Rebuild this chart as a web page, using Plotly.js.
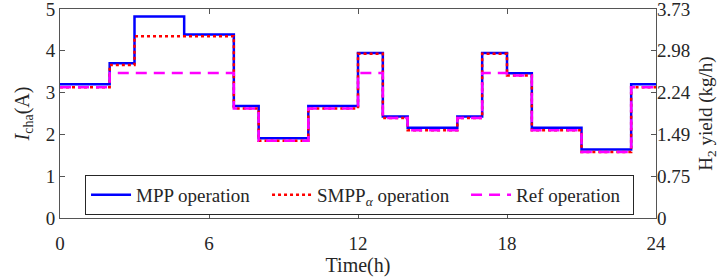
<!DOCTYPE html>
<html><head><meta charset="utf-8">
<script src="https://cdn.plot.ly/plotly-3.0.1.min.js"></script>
<style>html,body{margin:0;padding:0;background:#fff}#c{width:722px;height:280px}</style>
</head><body><div id="c"></div>
<script>
// hours (step starts), last point closes the step at 24
const hours = [0,1,2,3,4,5,6,7,8,9,10,11,12,13,14,15,16,17,18,19,20,21,22,23,24];
const mppOperation  = [3.20,3.20,3.70,4.82,4.82,4.39,4.39,2.68,1.91,1.91,2.68,2.68,3.95,2.43,2.16,2.16,2.43,3.95,3.46,2.16,2.16,1.64,1.64,3.20,3.20];
const smppOperation = [3.13,3.13,3.66,4.35,4.35,4.35,4.35,2.62,1.85,1.85,2.62,2.62,3.93,2.39,2.10,2.10,2.39,3.93,3.41,2.10,2.10,1.58,1.58,3.13,3.13];
const refOperation  = [3.13,3.13,3.47,3.47,3.47,3.47,3.47,2.62,1.85,1.85,2.62,2.62,3.47,2.39,2.10,2.10,2.39,3.47,3.41,2.10,2.10,1.58,1.58,3.13,3.13];
const seriesNames = ['MPP operation','SMPP<sub><i>α</i></sub> operation','Ref operation'];
const xTicks = [0,6,12,18,24];
const leftTicks = [0,1,2,3,4,5];
const rightTickLabels = ['0','0.75','1.49','2.24','2.98','3.73'];
const h2Scale = 0.746; // kg/h per A

const FAM = 'Liberation Serif';
const f = (s)=>({family:FAM, size:s, color:'#262626'});
const axCol = '#555555';
const traces = [
  {x:hours, y:mppOperation, name:seriesNames[0], mode:'lines', legendwidth:126, line:{shape:'hv', color:'#0000FF', width:2.5}},
  {x:hours, y:smppOperation, name:seriesNames[1], mode:'lines', legendwidth:144, line:{shape:'hv', color:'#FF0000', width:2.5, dash:'dot'}},
  {x:hours, y:refOperation, name:seriesNames[2], mode:'lines', legendwidth:112, line:{shape:'hv', color:'#FF00FF', width:2.5, dash:'11px,7px'}},
  {x:[0], y:[0], yaxis:'y2', mode:'markers', marker:{opacity:0}, showlegend:false, hoverinfo:'skip'}
];
const layout = {
  width:722, height:280,
  margin:{l:60, r:66, t:9, b:62},
  paper_bgcolor:'#fff', plot_bgcolor:'#fff',
  font:f(17),
  showlegend:true,
  legend:{orientation:'h', x:0.042, y:0.206, xanchor:'left', yanchor:'top',
    bgcolor:'#fff', bordercolor:'#262626', borderwidth:1, font:f(19),
    traceorder:'normal', itemwidth:40},
  xaxis:{range:[0,24], tickvals:xTicks, ticks:'inside', ticklen:5, tickcolor:axCol,
    showline:true, linecolor:axCol, linewidth:1, mirror:'ticks', showgrid:false, zeroline:false,
    tickfont:f(19), ticklabelstandoff:8, ticklabeloverflow:'allow',
    title:{text:'Time(h)', font:f(20), standoff:2}},
  yaxis:{range:[0,5], tickvals:leftTicks, ticks:'inside', ticklen:5, tickcolor:axCol,
    showline:true, linecolor:axCol, linewidth:1, mirror:true, showgrid:false, zeroline:false,
    tickfont:f(19), ticklabeloverflow:'allow',
    title:{text:'<i>I</i><sub>cha</sub>(A)', font:f(20), standoff:10}},
  yaxis2:{overlaying:'y', side:'right', range:[0, 5*h2Scale],
    tickvals:leftTicks.map(v=>v*h2Scale), ticktext:rightTickLabels,
    ticks:'inside', ticklen:5, tickcolor:axCol, showline:false, showgrid:false, zeroline:false,
    tickfont:f(19), ticklabeloverflow:'allow',
    title:{text:'H<sub>2</sub> yield (kg/h)', font:f(19), standoff:8}}
};
Plotly.newPlot('c', traces, layout, {staticPlot:true, displayModeBar:false});
</script></body></html>
